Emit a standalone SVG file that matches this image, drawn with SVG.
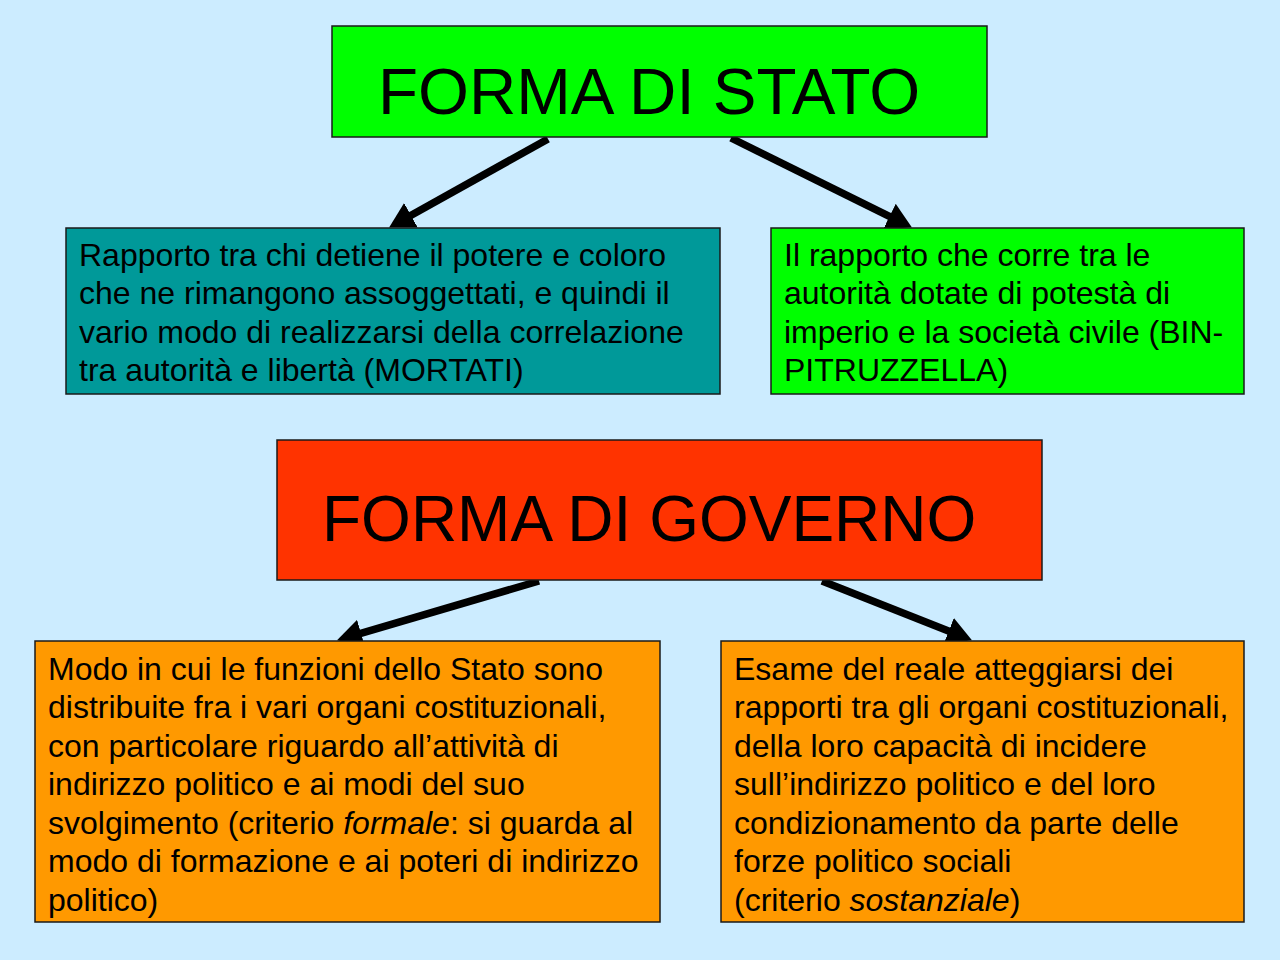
<svg xmlns="http://www.w3.org/2000/svg" width="1280" height="960" viewBox="0 0 1280 960">
<defs>
<style>
.box{stroke:#1a1a1a;stroke-width:1.5}
.title{font-family:"Liberation Sans",Arial,sans-serif;font-size:64px;fill:#000}
.body{font-family:"Liberation Sans",Arial,sans-serif;font-size:32px;fill:#000}
.conn{stroke:#000;stroke-width:7.5;fill:none;marker-end:url(#ah)}
</style>
<marker id="ah" viewBox="0 0 25 28" refX="10" refY="14" markerWidth="25" markerHeight="28" markerUnits="userSpaceOnUse" orient="auto">
<path d="M0,0 L25,14 L0,28 z" fill="#000"/>
</marker>
</defs>
<rect width="1280" height="960" fill="#CCECFF"/>
<g id="connectors">
<line class="conn" x1="548" y1="139" x2="402.2" y2="220.2"/>
<line class="conn" x1="731" y1="138" x2="898.5" y2="220.8"/>
<line class="conn" x1="539" y1="581" x2="351.4" y2="636.1"/>
<line class="conn" x1="822" y1="581" x2="958" y2="634.8"/>
</g>
<g id="forma-stato">
<rect class="box" x="332" y="26" width="655" height="111" fill="#00FF00"/>
<text class="title" x="378" y="114" style="font-size:65.5px">FORMA DI STATO</text>
</g>
<g id="stato-mortati">
<rect class="box" x="66" y="228" width="654" height="166" fill="#009999"/>
<text class="body">
<tspan x="79" y="266">Rapporto tra chi detiene il potere e coloro</tspan>
<tspan x="79" y="304">che ne rimangono assoggettati, e quindi il</tspan>
<tspan x="79" y="343">vario modo di realizzarsi della correlazione</tspan>
<tspan x="79" y="381">tra autorità e libertà (MORTATI)</tspan>
</text>
</g>
<g id="stato-bin">
<rect class="box" x="771" y="228" width="473" height="166" fill="#00FF00"/>
<text class="body">
<tspan x="784" y="266">Il rapporto che corre tra le</tspan>
<tspan x="784" y="304">autorità dotate di potestà di</tspan>
<tspan x="784" y="343">imperio e la società civile (BIN-</tspan>
<tspan x="784" y="381">PITRUZZELLA)</tspan>
</text>
</g>
<g id="forma-governo">
<rect class="box" x="277" y="440" width="765" height="140" fill="#FF3300"/>
<text class="title" x="322" y="541">FORMA DI GOVERNO</text>
</g>
<g id="governo-formale">
<rect class="box" x="35" y="641" width="625" height="281" fill="#FF9900"/>
<text class="body">
<tspan x="48" y="680">Modo in cui le funzioni dello Stato sono</tspan>
<tspan x="48" y="718">distribuite fra i vari organi costituzionali,</tspan>
<tspan x="48" y="757">con particolare riguardo all’attività di</tspan>
<tspan x="48" y="795">indirizzo politico e ai modi del suo</tspan>
<tspan x="48" y="834">svolgimento (criterio <tspan font-style="italic">formale</tspan>: si guarda al</tspan>
<tspan x="48" y="872">modo di formazione e ai poteri di indirizzo</tspan>
<tspan x="48" y="911">politico)</tspan>
</text>
</g>
<g id="governo-sostanziale">
<rect class="box" x="721" y="641" width="523" height="281" fill="#FF9900"/>
<text class="body">
<tspan x="734" y="680">Esame del reale atteggiarsi dei</tspan>
<tspan x="734" y="718">rapporti tra gli organi costituzionali,</tspan>
<tspan x="734" y="757">della loro capacità di incidere</tspan>
<tspan x="734" y="795">sull’indirizzo politico e del loro</tspan>
<tspan x="734" y="834">condizionamento da parte delle</tspan>
<tspan x="734" y="872">forze politico sociali</tspan>
<tspan x="734" y="911">(criterio <tspan font-style="italic">sostanziale</tspan>)</tspan>
</text>
</g>
</svg>
